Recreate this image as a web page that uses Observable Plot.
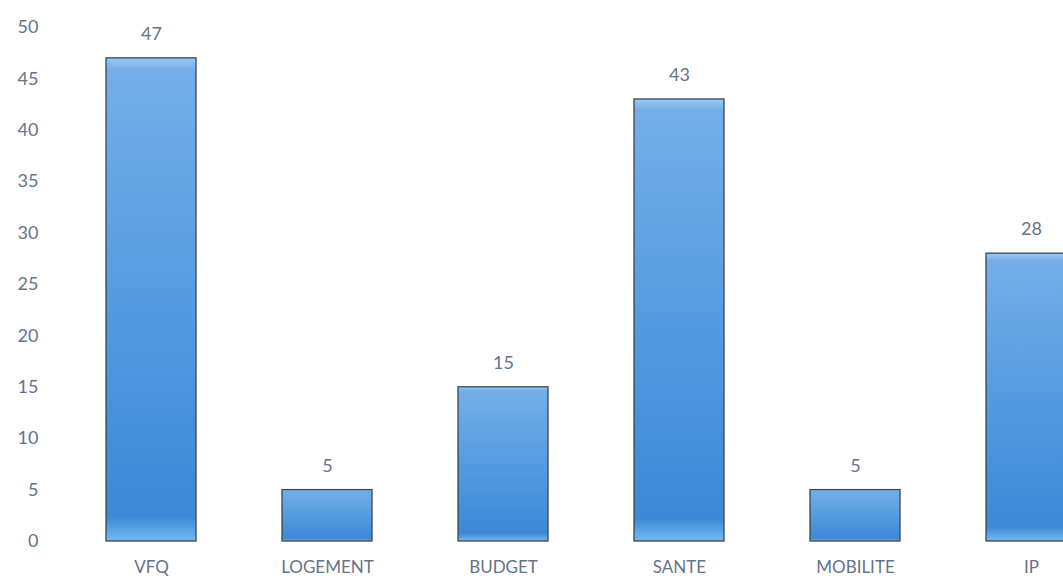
<!DOCTYPE html>
<html><head><meta charset="utf-8">
<script src="https://cdn.jsdelivr.net/npm/d3@7"></script>
<script src="https://cdn.jsdelivr.net/npm/@observablehq/plot@0.6"></script>
<style>body{margin:0;background:#fff;overflow:hidden} svg{display:block}</style>
</head><body><div id="chart"></div>
<script>
const categories = ["VFQ", "LOGEMENT", "BUDGET", "SANTE", "MOBILITE", "IP"];
const values = [47, 5, 15, 43, 5, 28];
const yTicks = [0, 5, 10, 15, 20, 25, 30, 35, 40, 45, 50];

const data = categories.map((c, i) => ({cat: c, value: values[i]}));
const textColor = "#66738a";

const chart = Plot.plot({
  width: 1063,
  height: 580,
  marginTop: 27,
  marginBottom: 39,
  marginLeft: 42,
  marginRight: 0,
  style: {fontFamily: "Lato, 'Open Sans', sans-serif", fontSize: "18px", color: textColor, background: "#fff"},
  x: {domain: categories, range: [61, 1120], paddingInner: 0.49, paddingOuter: 0.245, label: null},
  y: {domain: [0, 50], label: null},
  marks: [
    Plot.ruleY(yTicks.filter(d => d > 0), {stroke: "#f3f3f3", x1: 60, x2: 1063}),
    Plot.barY(data, {x: "cat", y: "value", fill: "url(#barGrad)", stroke: "#3b4654", strokeWidth: 1.3}),
    Plot.text(data, {x: "cat", y: "value", text: d => String(d.value), dy: -24, fill: textColor, fontSize: 18}),
    Plot.axisX({tickSize: 0, tickPadding: 19, fill: textColor, fontSize: 17}),
    Plot.axisY({ticks: yTicks, tickSize: 0, tickPadding: 4, fill: textColor, fontSize: 18, label: null})
  ]
});

// gradient defs
const svg = d3.select(chart);
const defs = svg.insert("defs", ":first-child");
const g = defs.append("linearGradient").attr("id", "barGrad").attr("x1", 0).attr("y1", 0).attr("x2", 0).attr("y2", 1);
g.append("stop").attr("offset", "0%").attr("stop-color", "#9ccbf2");
g.append("stop").attr("offset", "2.5%").attr("stop-color", "#74aee8");
g.append("stop").attr("offset", "50%").attr("stop-color", "#559bdf");
g.append("stop").attr("offset", "95%").attr("stop-color", "#3d89d6");
g.append("stop").attr("offset", "100%").attr("stop-color", "#72bbf2");
document.getElementById("chart").appendChild(chart);
</script>
</body></html>
